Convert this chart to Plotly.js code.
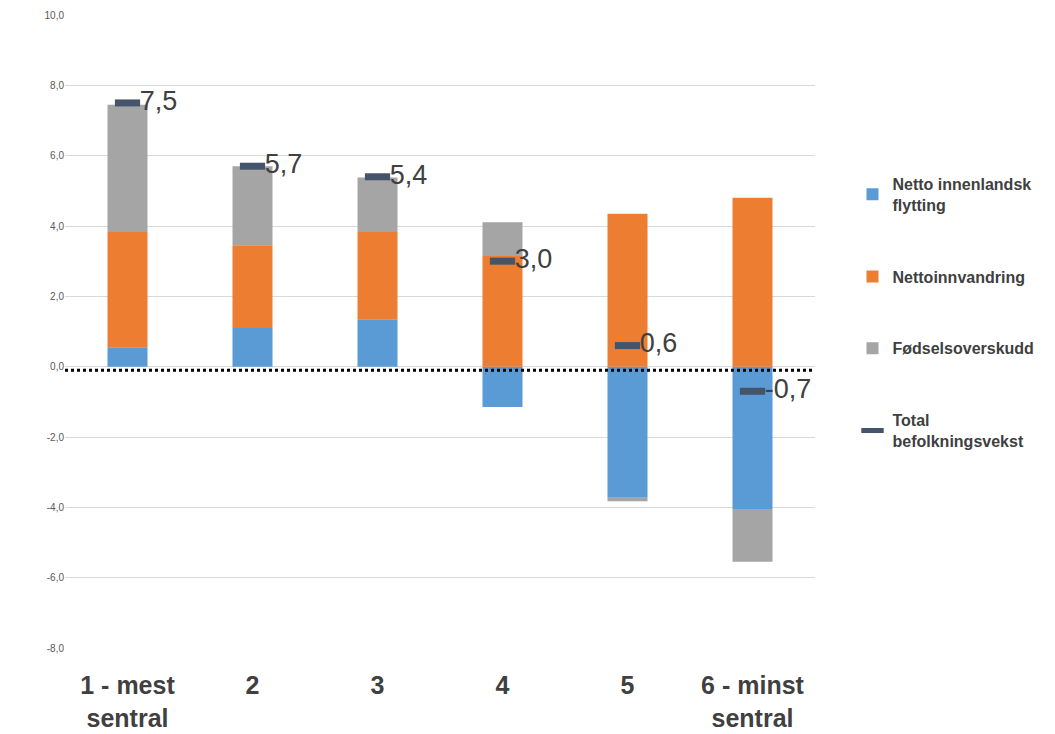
<!DOCTYPE html>
<html><head><meta charset="utf-8">
<script src="https://cdn.plot.ly/plotly-3.0.1.min.js"></script>
<style>body{margin:0}</style></head>
<body><div id="c" style="width:1055px;height:734px"></div>
<script>
const categories = ["<b>1 - mest</b><br><b>sentral</b>","<b>2</b>","<b>3</b>","<b>4</b>","<b>5</b>","<b>6 - minst</b><br><b>sentral</b>"];
const innenlandsk = [0.55, 1.1, 1.35, -1.15, -3.73, -4.05];
const innvandring = [3.28, 2.35, 2.48, 3.15, 4.35, 4.8];
const fodsel = [3.62, 2.25, 1.55, 0.96, -0.1, -1.5];
const total = [7.5, 5.7, 5.4, 3.0, 0.6, -0.7];
const totalLabels = ["7,5","5,7","5,4","3,0","0,6","-0,7"];
const tickVals = [-8,-6,-4,-2,0,2,4,6,8,10];
const tickText = ["-8,0","-6,0","-4,0","-2,0","0,0","2,0","4,0","6,0","8,0","10,0"];

const traces = [
 {type:'bar',legendgroup:'a',name:'<b>Netto innenlandsk</b><br><b>flytting</b>',x:categories,y:innenlandsk,marker:{color:'#5b9bd5'},width:0.32},
 {type:'bar',legendgroup:'b',name:'<b>Nettoinnvandring</b>',x:categories,y:innvandring,marker:{color:'#ed7d31'},width:0.32},
 {type:'bar',legendgroup:'c',name:'<b>Fødselsoverskudd</b>',x:categories,y:fodsel,marker:{color:'#a5a5a5'},width:0.32},
 {type:'scatter',legendgroup:'d',mode:'markers+text',name:'<b>Total</b><br><b>befolkningsvekst</b>',x:categories,y:total,
  text:totalLabels,textposition:'middle right',textfont:{size:27,color:'#404040',family:'Liberation Sans Narrow, Liberation Sans'},
  marker:{symbol:'line-ew',size:18,line:{width:7,color:'#44546a'},color:'#44546a'}}
];
const layout = {
 barmode:'relative',
 margin:{l:65,r:240,t:15,b:86},
 paper_bgcolor:'#fff',plot_bgcolor:'#fff',
 showlegend:true,
 legend:{x:1.05,y:0.76,yanchor:'top',tracegroupgap:48,font:{size:16,color:'#404040',family:'Liberation Sans Narrow, Liberation Sans'},traceorder:'grouped'},
 xaxis:{type:'category',tickfont:{size:25,color:'#404040',family:'Liberation Sans'},showline:false,ticks:'',ticklabelstandoff:20},
 yaxis:{range:[-8,10],tickvals:tickVals,ticktext:tickText,tickfont:{size:10,color:'#595959'},
  gridcolor:'#d9d9d9',zeroline:false,showline:false},
 shapes:[{type:'line',xref:'paper',x0:0,x1:1,yref:'y',y0:-0.1,y1:-0.1,line:{color:'#000',width:3,dash:'dot'}}],
 font:{family:'Liberation Sans'}
};
Plotly.newPlot('c',traces,layout,{displayModeBar:false});
</script></body></html>
